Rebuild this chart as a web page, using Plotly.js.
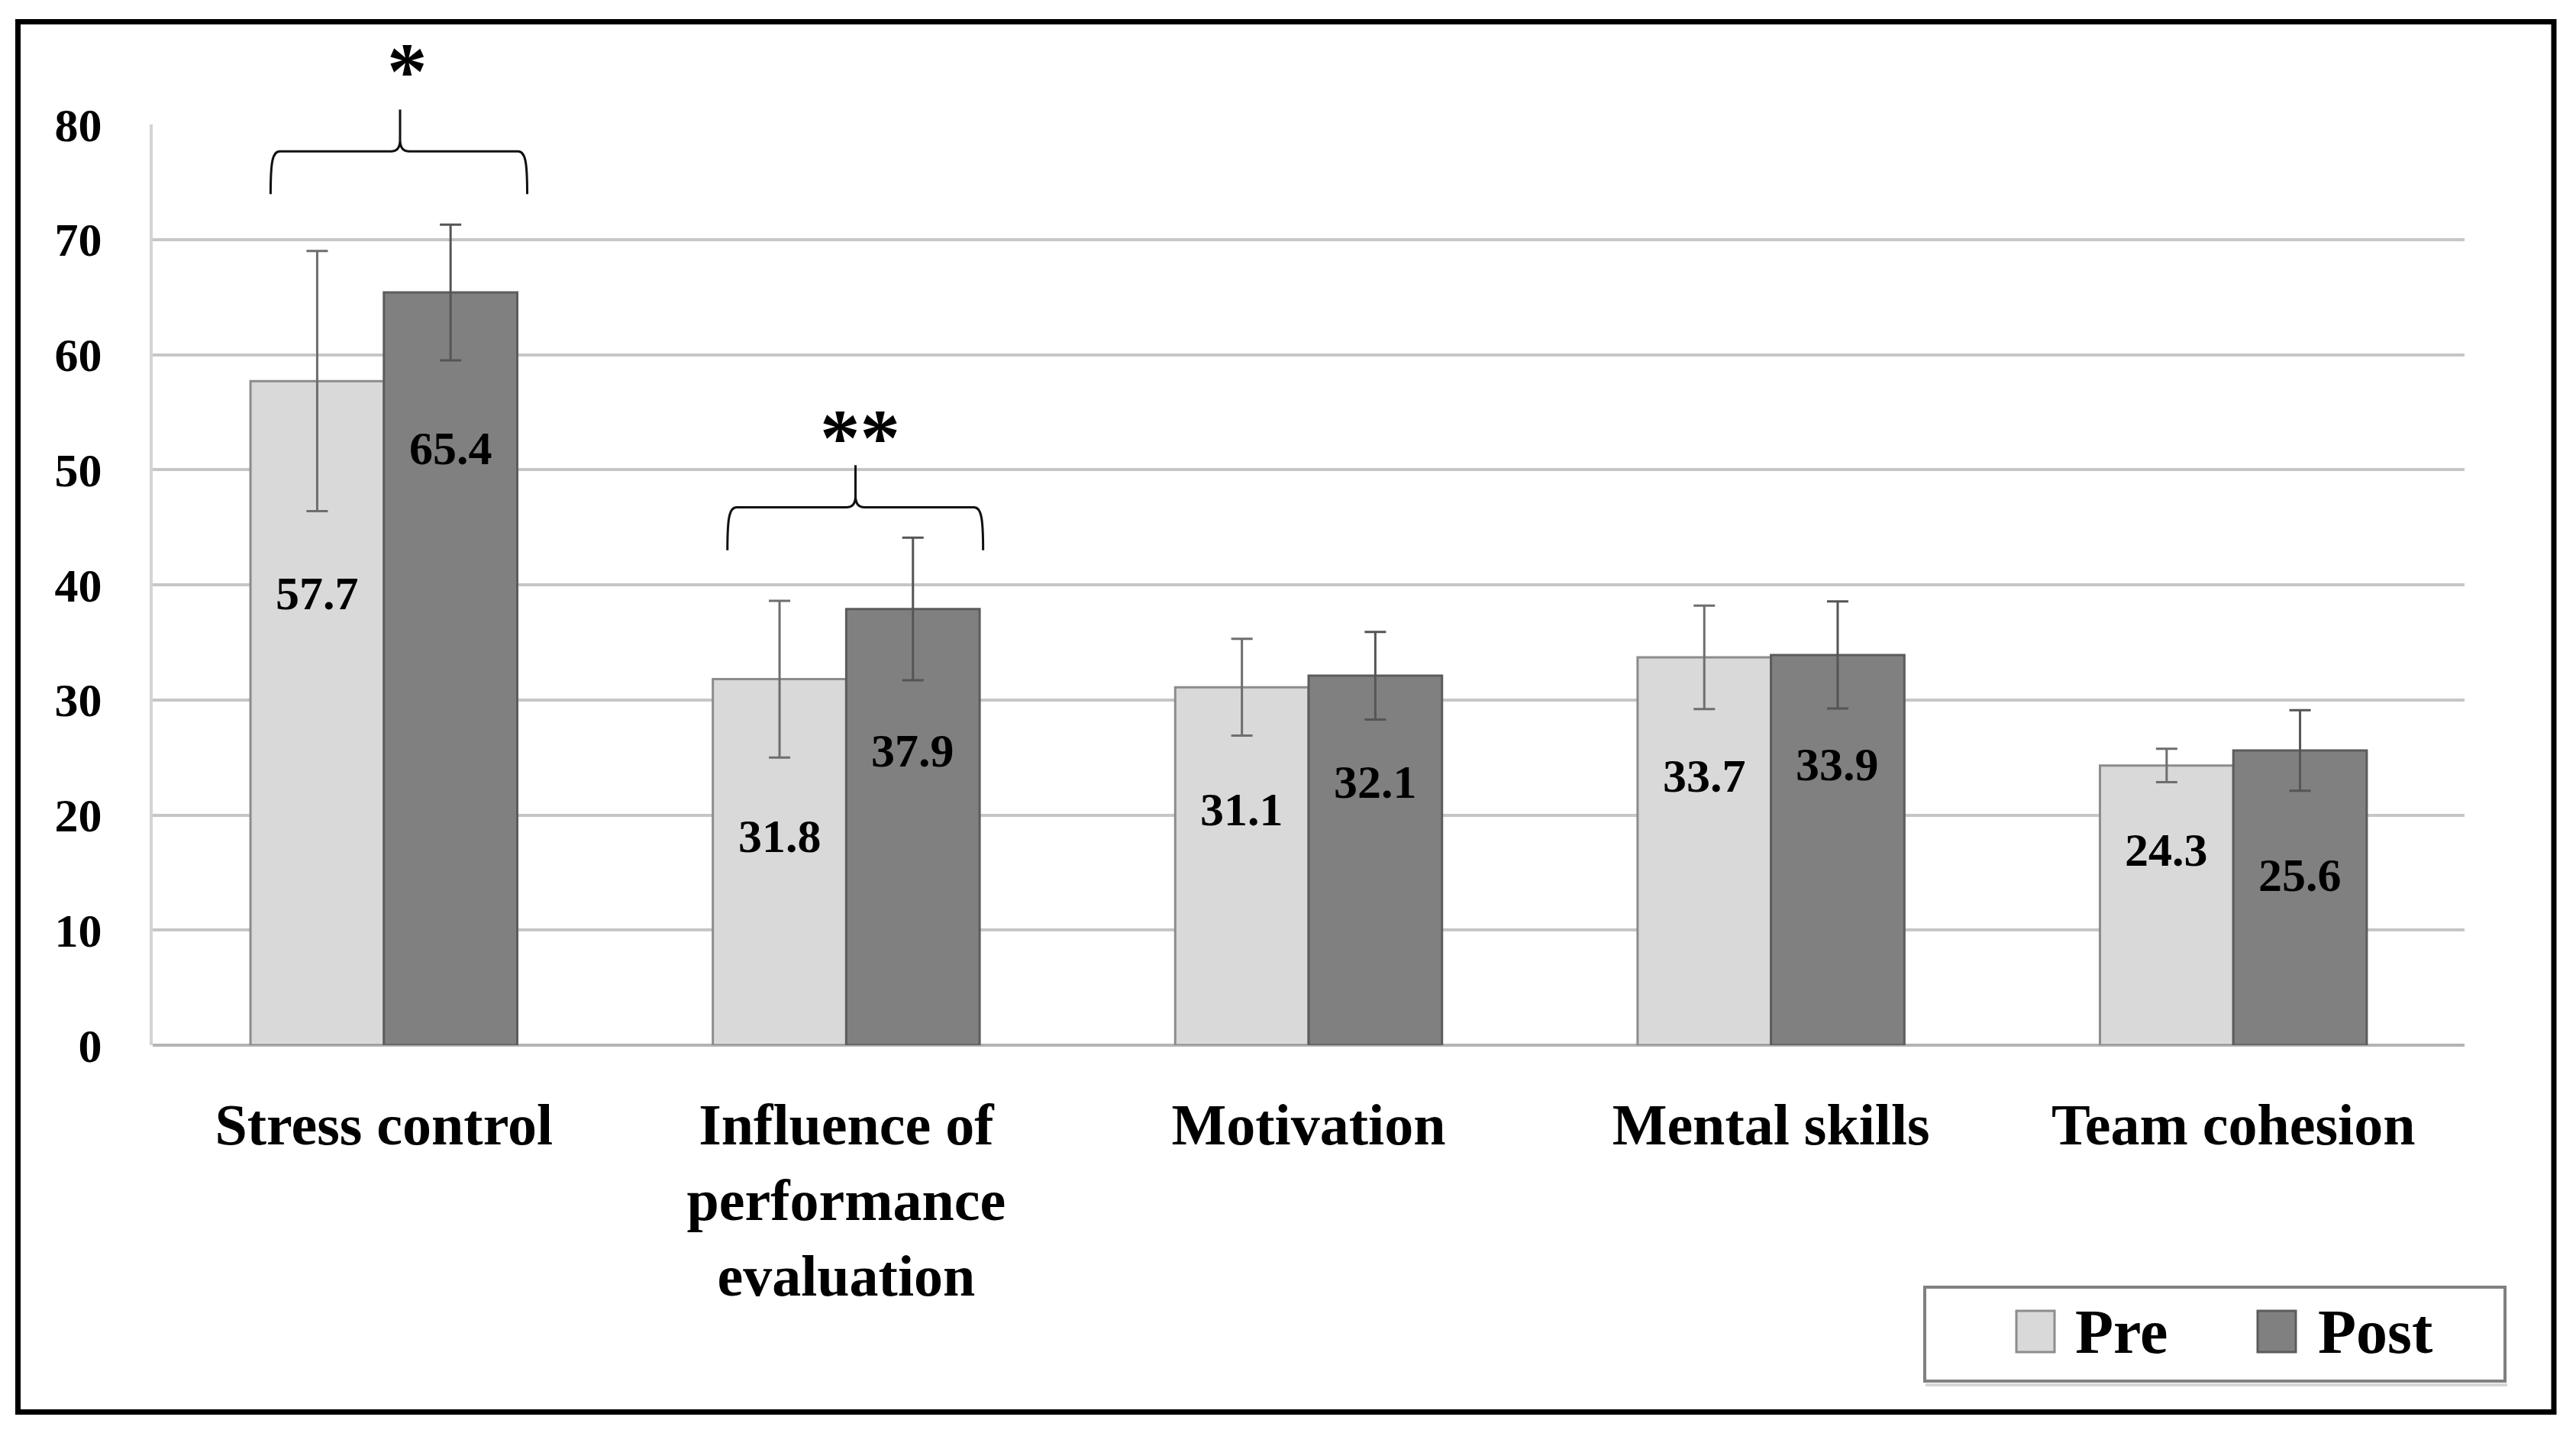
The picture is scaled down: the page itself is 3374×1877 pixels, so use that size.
<!DOCTYPE html>
<html>
<head>
<meta charset="utf-8">
<script src="https://cdn.plot.ly/plotly-3.0.1.min.js"></script>
<style>
html, body { margin: 0; padding: 0; background: #ffffff; }
#chart { width: 3374px; height: 1877px; }
</style>
</head>
<body>
<div id="chart"></div>
<script>
// ---------------- data ----------------
const categories = ['Stress control', 'Influence of<br>performance<br>evaluation', 'Motivation', 'Mental skills', 'Team cohesion'];
const seriesNames = ['Pre', 'Post'];
const preValues = [57.7, 31.8, 31.1, 33.7, 24.3];
const postValues = [65.4, 37.9, 32.1, 33.9, 25.6];
const preSD = [11.3, 6.8, 4.2, 4.5, 1.45];
const postSD = [5.9, 6.2, 3.8, 4.65, 3.5];
const yTickValues = [0, 10, 20, 30, 40, 50, 60, 70, 80];
const sigLabels = ['*', '**'];
const sigCategoryIndex = [0, 1];

// ---------------- layout settings ----------------
const W = 3374, H = 1877;
const M = { l: 200, r: 146, t: 163, b: 508 };
const plotW = W - M.l - M.r, plotH = H - M.t - M.b;
const yMax = 80;
const nCat = categories.length;
const barGap = 0.423;
const barOffset = (1 - barGap) / 4;   // centre of each bar relative to category centre

// pixel -> paper helpers (layout only)
const pxX = px => (px - M.l) / plotW;
const pxY = py => (H - M.b - py) / plotH;
const catX = c => (c + 0.5) / nCat;     // category index -> paper x
const valY = v => v / yMax;             // value -> paper y

// heights where the in-bar value labels sit (layout placement)
const labelHeightPre = [39.3, 18.2, 20.5, 23.4, 16.95];
const labelHeightPost = [51.9, 25.6, 22.9, 24.4, 14.8];

// significance bracket geometry (relative to category centre, heights in value units)
const bracketGeom = [
  { left: -0.245, right: 0.31, peak: 0.035, base: 73.95, bar: 77.66, top: 81.3, star: 84.6, starX: 0.05 },
  { left: -0.257, right: 0.296, peak: 0.02, base: 43.0, bar: 46.73, top: 50.4, star: 52.8, starX: 0.03 }
];

const serif = 'Liberation Serif, Times New Roman, serif';
const preColor = '#d9d9d9', preLine = '#8c8c8c';
const postColor = '#808080', postLine = '#5c5c5c';

const traces = [
  {
    type: 'bar', name: seriesNames[0], x: categories, y: preValues,
    marker: { color: preColor, line: { color: preLine, width: 3 } },
    error_y: { type: 'data', array: preSD, visible: true, color: '#6e6e6e', thickness: 3, width: 14 },
    showlegend: false, hoverinfo: 'x+y'
  },
  {
    type: 'bar', name: seriesNames[1], x: categories, y: postValues,
    marker: { color: postColor, line: { color: postLine, width: 3 } },
    error_y: { type: 'data', array: postSD, visible: true, color: '#555555', thickness: 3, width: 14 },
    showlegend: false, hoverinfo: 'x+y'
  }
];

const annotations = [];
const shapes = [];

// value labels inside bars
preValues.forEach((v, i) => {
  annotations.push({ x: i - barOffset, y: labelHeightPre[i], xref: 'x', yref: 'y', text: v.toFixed(1),
    showarrow: false, xanchor: 'center', font: { family: serif, size: 62, color: '#000', weight: 'bold' } });
});
postValues.forEach((v, i) => {
  annotations.push({ x: i + barOffset, y: labelHeightPost[i], xref: 'x', yref: 'y', text: v.toFixed(1),
    showarrow: false, xanchor: 'center', font: { family: serif, size: 62, color: '#000', weight: 'bold' } });
});

// significance brackets and stars
function bracePath(c, g) {
  const L = c + g.left, R = c + g.right, P = c + g.peak;
  const X = v => catX(v).toFixed(5), Y = v => valY(v).toFixed(5);
  const d = 0.02;
  return 'M' + X(L) + ',' + Y(g.base) +
    ' C' + X(L) + ',' + Y(g.bar - 0.9) + ' ' + X(L + 0.004) + ',' + Y(g.bar) + ' ' + X(L + d) + ',' + Y(g.bar) +
    ' L' + X(P - d) + ',' + Y(g.bar) +
    ' Q' + X(P) + ',' + Y(g.bar) + ' ' + X(P) + ',' + Y(g.bar + 1.0) +
    ' L' + X(P) + ',' + Y(g.top) +
    ' M' + X(P) + ',' + Y(g.bar + 1.0) +
    ' Q' + X(P) + ',' + Y(g.bar) + ' ' + X(P + d) + ',' + Y(g.bar) +
    ' L' + X(R - d) + ',' + Y(g.bar) +
    ' C' + X(R - 0.004) + ',' + Y(g.bar) + ' ' + X(R) + ',' + Y(g.bar - 0.9) + ' ' + X(R) + ',' + Y(g.base);
}
sigCategoryIndex.forEach((c, k) => {
  const g = bracketGeom[k];
  shapes.push({ type: 'path', xref: 'paper', yref: 'paper', path: bracePath(c, g),
    line: { color: '#111111', width: 3 } });
  annotations.push({ x: catX(c + g.starX), y: valY(g.star), xref: 'paper', yref: 'paper', text: sigLabels[k],
    showarrow: false, xanchor: 'center', yanchor: 'middle',
    font: { family: serif, size: 105, color: '#000', weight: 'bold' } });
});

// outer frame
shapes.push({ type: 'rect', xref: 'paper', yref: 'paper', x0: pxX(23.5), x1: pxX(3345), y0: pxY(28.5), y1: pxY(1849.5),
  line: { color: '#000000', width: 7 }, fillcolor: 'rgba(0,0,0,0)' });

// legend (box, swatches, labels)
shapes.push({ type: 'line', xref: 'paper', yref: 'paper', x0: pxX(2522), x1: pxX(3284), y0: pxY(1814), y1: pxY(1814),
  line: { color: '#d6d6d6', width: 4 } });
shapes.push({ type: 'rect', xref: 'paper', yref: 'paper', x0: pxX(2521), x1: pxX(3281), y0: pxY(1686), y1: pxY(1809),
  line: { color: '#808080', width: 4 }, fillcolor: '#ffffff' });
const legendItems = [
  { name: seriesNames[0], fill: preColor, line: preLine, sx0: 2641, sx1: 2691, tx: 2716 },
  { name: seriesNames[1], fill: postColor, line: postLine, sx0: 2957, sx1: 3007, tx: 3034 }
];
legendItems.forEach(it => {
  shapes.push({ type: 'rect', xref: 'paper', yref: 'paper', x0: pxX(it.sx0), x1: pxX(it.sx1), y0: pxY(1717), y1: pxY(1771),
    line: { color: it.line, width: 3 }, fillcolor: it.fill });
  annotations.push({ x: pxX(it.tx), y: pxY(1744), xref: 'paper', yref: 'paper', xanchor: 'left', yanchor: 'middle',
    text: it.name, showarrow: false, font: { family: serif, size: 82, color: '#000', weight: 'bold' } });
});

const layout = {
  width: W, height: H,
  margin: M,
  paper_bgcolor: '#ffffff', plot_bgcolor: '#ffffff',
  barmode: 'group', bargap: barGap, bargroupgap: 0,
  showlegend: false,
  font: { family: serif, color: '#000' },
  xaxis: {
    type: 'category', tickmode: 'array', tickvals: categories, ticktext: categories,
    ticks: '', showgrid: false, showline: false, zeroline: false,
    tickfont: { family: serif, size: 76, color: '#000', weight: 'bold' },
    ticklabelstandoff: 53, fixedrange: true
  },
  yaxis: {
    range: [0, yMax], tickmode: 'array', tickvals: yTickValues,
    ticks: '', showgrid: true, gridcolor: '#c6c6c6', gridwidth: 4,
    zeroline: true, zerolinecolor: '#b4b4b4', zerolinewidth: 4,
    showline: true, linecolor: '#d4d4d4', linewidth: 4,
    tickfont: { family: serif, size: 62, color: '#000', weight: 'bold' },
    ticklabelstandoff: 50, fixedrange: true
  },
  annotations: annotations,
  shapes: shapes
};

Plotly.newPlot('chart', traces, layout, { staticPlot: true, displayModeBar: false });
</script>
</body>
</html>
